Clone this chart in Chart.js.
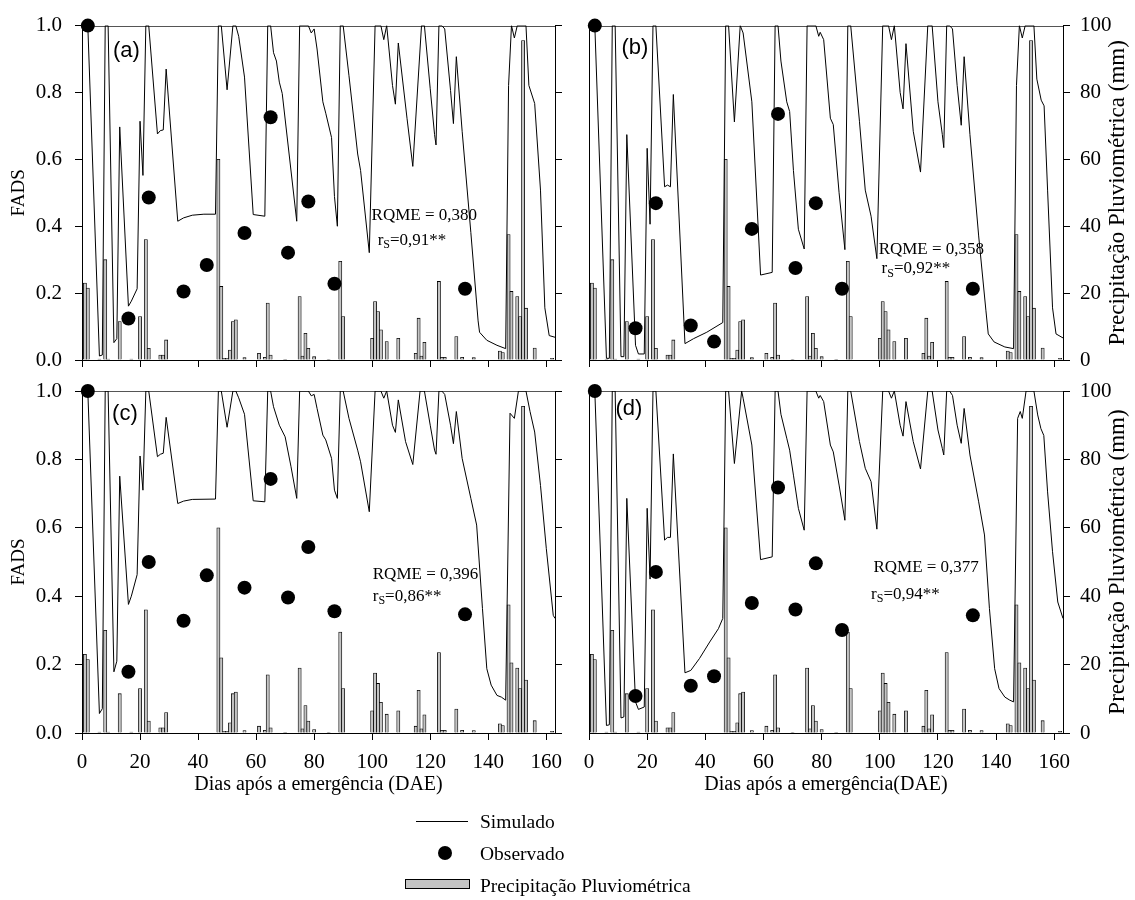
<!DOCTYPE html>
<html><head><meta charset="utf-8">
<script src="https://cdn.jsdelivr.net/npm/chart.js@4.4.0/dist/chart.umd.min.js"></script>
<style>
html,body{margin:0;padding:0;background:#fff;}
#wrap{position:relative;width:1135px;height:900px;overflow:hidden;background:#fff;}
#wrap canvas{position:absolute;left:0;top:0;}
.leg{position:absolute;font-family:"Liberation Serif","Times New Roman",serif;font-size:19.5px;line-height:20px;color:#000;white-space:nowrap;}
</style></head><body>
<div id="wrap">
<canvas id="ca" width="1135" height="900"></canvas>
<canvas id="cb" width="1135" height="900"></canvas>
<canvas id="cc" width="1135" height="900"></canvas>
<canvas id="cd" width="1135" height="900"></canvas>
<div style="position:absolute;left:416px;top:821px;width:52px;height:0;border-top:1px solid #000"></div>
<div class="leg" style="left:480px;top:812px">Simulado</div>
<div style="position:absolute;left:438px;top:846px;width:14px;height:14px;border-radius:50%;background:#000"></div>
<div class="leg" style="left:480px;top:844px">Observado</div>
<div style="position:absolute;left:405px;top:879px;width:63px;height:8px;background:#c4c4c4;border:1px solid #000"></div>
<div class="leg" style="left:480px;top:876px">Precipitação Pluviométrica</div>
</div>
<script>
// ---------- data ----------
const xTicks = [0,20,40,60,80,100,120,140,160];
const yTicks = [0,0.2,0.4,0.6,0.8,1.0];
const y2Ticks = [0,20,40,60,80,100];

const rainDays = [1,2,6,8,9,13,17,20,22,23,27,28,29,47,48,49,50,51,52,53,56,61,63,64,65,70,75,76,77,78,80,85,89,90,100,101,102,103,105,109,115,116,117,118,123,124,125,129,131,135,144,145,147,148,150,151,152,153,156,162];
const rainMM = [23,21.5,0.3,30,0.3,11.5,0.3,13,36,3.5,1.5,1.5,6,60,22,0.5,0.5,3,11.5,12,0.7,2,0.8,17,1.5,0.2,19,1.2,8,3.5,1,0.2,29.5,13,6.5,17.5,14.5,9,5.5,6.5,2,12.5,1.2,5.3,23.5,0.8,0.8,7,0.8,0.7,2.7,2.2,37.5,20.5,19,13,95.5,15.5,3.6,0.5];

const obsDays = [2,16,23,35,43,56,65,71,78,87,132];
const obsA = [1.0,0.124,0.486,0.205,0.284,0.380,0.726,0.321,0.474,0.228,0.213];
const obsB = [1.0,0.095,0.469,0.103,0.055,0.392,0.736,0.275,0.469,0.213,0.213];
const obsC = [1.0,0.179,0.500,0.328,0.461,0.425,0.743,0.396,0.544,0.356,0.347];
const obsD = [1.0,0.108,0.471,0.138,0.166,0.380,0.718,0.361,0.496,0.301,0.344];

const simDaysA = [1,2,6,7,8,9,11,12,13,16,17,19,20,21,22,23,26,27,28,29,33,35,38,42,46,47,48,50,52,53,54,56,59,63,64,65,66,67,68,69,74,75,78,79,80,81,83,84,86,87,88,89,90,92,95,96,99,101,103,104,105,107,108,109,112,114,117,118,120,121.5,122,123,124,125,127,128,129,131,134,136.5,137,139.5,143,146,147,148,149,150,153,154,156,158,159.5,161,163];
const simA = [1,1,0.012,0.015,1,1,0.052,0.064,0.697,0.161,0.176,0.213,0.714,0.552,1,1,0.676,0.686,0.688,0.870,0.415,0.425,0.433,0.436,0.436,1,1,0.808,1,1,0.968,0.846,0.435,0.430,1,1,0.919,0.894,0.831,0.797,0.415,1,1,0.978,0.99,0.93,0.772,0.738,0.665,0.489,0.40,1,1,0.85,0.616,0.567,0.321,1,1,0.958,1,0.821,0.765,0.948,0.723,0.579,1,1,0.811,0.674,0.643,1,1,0.99,0.806,0.707,0.907,0.684,0.381,0.117,0.083,0.059,0.044,0.034,0.821,1,0.963,1,1,0.821,0.767,0.508,0.156,0.073,0.068];

const simDaysB = [1,2,6,7,8,9,11,12,13,16,17,19,20,21,22,23,26,27,28,29,33,36,40.5,46,47,48,50,52,53,56,59,63,64,65,66,68,69,70.3,72,74,75,78,79,79.5,80.7,83,84,86,88,89,90,93,95,97,99,101,103,104,105,107,108,109,111.5,114,116.5,118,120,121.5,122,123,124,125,126.6,128,129,131,134,136.5,137.3,139.3,143,146,147,148,149,150,153,154,155.5,156.5,157.7,159.4,160.6,163];
const simB = [1,1,0.005,0.005,1,1,0.01,0.01,0.674,0.044,0.018,0.018,0.633,0.406,1,1,0.518,0.523,0.518,0.794,0.049,0.064,0.083,0.112,1,1,0.712,1,0.978,0.772,0.254,0.262,1,1,0.894,0.772,0.743,0.567,0.391,0.332,1,1,0.968,0.98,0.958,0.723,0.704,0.5,0.33,1,1,0.714,0.508,0.43,0.303,1,1,0.958,1,0.80,0.751,0.946,0.684,0.562,1,1,0.772,0.674,0.635,1,1,0.99,0.821,0.702,0.907,0.674,0.371,0.147,0.078,0.054,0.039,0.034,0.821,1,0.963,1,1,0.84,0.777,0.76,0.508,0.156,0.078,0.066];

const simDaysC = [1,2,6,7,8,9,11,12,13,16,17,19,20,21,22,23,26,27,28,29,33,35,38,46,47,48,50,52,53,54,56,59,63,64,65,66,68,70,72,74,75,78,79,80,81,83,84,86,87,88,89,90,92,95,96,99,101,103,104,105,107,108,109,111.5,114,116.5,118,120,121.5,122,123,124,125,127,128,129,131,134,136,138,139.5,141,143,144.5,146,147.5,149,150.4,153,154.4,156,158,160,162.4,163];
const simC = [1,1,0.057,0.071,1,1,0.179,0.21,0.751,0.376,0.40,0.463,0.81,0.71,1,1,0.808,0.815,0.818,0.923,0.671,0.678,0.683,0.684,1,1,0.894,1,1,0.98,0.932,0.679,0.676,1,1,0.954,0.9,0.866,0.78,0.686,1,1,0.986,0.99,0.949,0.871,0.857,0.803,0.71,0.686,1,1,0.92,0.827,0.793,0.647,1,1,0.979,1,0.9,0.879,0.974,0.852,0.785,1,1,0.9,0.827,0.815,1,1,0.99,0.9,0.846,0.94,0.803,0.686,0.608,0.364,0.188,0.14,0.11,0.105,0.096,0.935,0.92,1,1,0.94,0.88,0.724,0.54,0.344,0.335];

const simDaysD = [1,2,6,7,8,9,11,12,13,16,17,19,20,21,22,23,26,27,28,29,33,35,38,41.5,44.5,46,47,48,50,52.5,53,56,59,63,64,65,66,68,69,70.3,72,74,75,78,79,79.5,80.7,83,84,86,88,89,90,93,95,97,99,101,103,104,105,107,108,109,111.5,114,116.5,118,120,121.5,122,123,124,125,126.6,128,129,131,134,136,137.7,139.5,141,143,144.7,146,147.4,148.3,149,150.3,153,154.3,155.4,156.4,157.7,159.4,161.2,163];
const simD = [1,1,0.022,0.024,1,1,0.044,0.047,0.686,0.091,0.069,0.076,0.657,0.45,1,1,0.564,0.572,0.572,0.816,0.176,0.183,0.218,0.266,0.305,0.335,1,1,0.788,1,0.979,0.842,0.507,0.515,1,1,0.932,0.862,0.827,0.754,0.657,0.593,1,1,0.979,0.987,0.969,0.842,0.822,0.725,0.622,1,1,0.852,0.774,0.735,0.596,1,1,0.979,1,0.9,0.868,0.969,0.852,0.772,1,1,0.886,0.832,0.813,1,1,0.987,0.9,0.847,0.949,0.813,0.676,0.579,0.364,0.188,0.13,0.105,0.096,0.091,0.92,0.94,0.92,1,1,0.93,0.89,0.87,0.705,0.53,0.383,0.335];

const panelTags = ['(a)','(b)','(c)','(d)'];
const rqmeTexts = ['RQME = 0,380','RQME = 0,358','RQME = 0,396','RQME = 0,377'];
const rsTexts = ['0,91**','0,92**','0,86**','0,94**'];
const xTitle = 'Dias após a emergência (DAE)';
const xTitle2 = 'Dias após a emergência(DAE)';
const yTitle = 'FADS';
const y2Title = 'Precipitação Pluviométrica (mm)';

// ---------- layout ----------
const SERIF = '"Liberation Serif","Times New Roman",serif';
const SANS = '"Liberation Sans",Arial,sans-serif';
Chart.defaults.color = '#000';
Chart.defaults.font.family = SERIF;

const panels = [
  {id:'ca', box:[82,555,19,360], L:true, R:false, B:false, sx:simDaysA, sy:simA, oy:obsA, i:0, tagAt:[15.3,0.924], rqAt:[99.8,0.431], rsAt:[101.9,0.358], xt:''},
  {id:'cb', box:[589,1063,19,360], L:false, R:true, B:false, sx:simDaysB, sy:simB, oy:obsB, i:1, tagAt:[15.8,0.932], rqAt:[99.6,0.331], rsAt:[100.6,0.274], xt:''},
  {id:'cc', box:[82,555,391,733], L:true, R:false, B:true, sx:simDaysC, sy:simC, oy:obsC, i:2, tagAt:[14.8,0.933], rqAt:[100.2,0.464], rsAt:[100.2,0.40], xt:xTitle},
  {id:'cd', box:[589,1063,391,733], L:false, R:true, B:true, sx:simDaysD, sy:simD, oy:obsD, i:3, tagAt:[13.7,0.947], rqAt:[97.8,0.483], rsAt:[97.0,0.406], xt:xTitle2}
];

function makeDecor(p){
  return {
    id:'decor',
    beforeDatasetsDraw(chart){
      const ca = chart.chartArea, ctx = chart.ctx;
      ctx.save();
      ctx.strokeStyle = '#555'; ctx.lineWidth = 1;
      ctx.beginPath(); ctx.moveTo(ca.left, Math.round(ca.top)+0.5); ctx.lineTo(ca.right, Math.round(ca.top)+0.5); ctx.stroke();
      ctx.restore();
    },
    afterDraw(chart){
      const ctx = chart.ctx, xs = chart.scales.x, ys = chart.scales.y;
      ctx.save();
      ctx.fillStyle = '#000';
      ctx.font = '22px ' + SANS; ctx.textAlign = 'center'; ctx.textBaseline = 'middle';
      ctx.fillText(panelTags[p.i], xs.getPixelForValue(p.tagAt[0]), ys.getPixelForValue(p.tagAt[1]));
      ctx.font = '17px ' + SERIF; ctx.textAlign = 'left';
      ctx.fillText(rqmeTexts[p.i], xs.getPixelForValue(p.rqAt[0]), ys.getPixelForValue(p.rqAt[1]));
      const x0 = xs.getPixelForValue(p.rsAt[0]), y0 = ys.getPixelForValue(p.rsAt[1]);
      ctx.fillText('r', x0, y0);
      let w = ctx.measureText('r').width;
      ctx.font = '12px ' + SERIF;
      ctx.fillText('S', x0 + w, y0 + 5);
      w += ctx.measureText('S').width;
      ctx.font = '17px ' + SERIF;
      ctx.fillText('=' + rsTexts[p.i], x0 + w, y0);
      if (p.R) {
        const s2 = chart.scales.y2;
        ctx.translate(s2.right - 17, (chart.chartArea.top + chart.chartArea.bottom)/2);
        ctx.rotate(-Math.PI/2);
        ctx.font = '23px ' + SERIF; ctx.textAlign = 'center'; ctx.textBaseline = 'middle';
        ctx.fillText(y2Title, 0, 0);
      }
      ctx.restore();
    }
  };
}

function build(p){
  const W = 1135, H = 900;
  const [l, r, t, b] = p.box;
  const leftW = p.L ? 82 : 10;
  const rightW = p.R ? 72 : 10;
  const botH = p.B ? 70 : 10;
  const padding = {left: l - leftW, right: W - r - rightW, top: t, bottom: H - b - botH};
  const axisGrid = (ticks) => ({drawOnChartArea:false, drawTicks:ticks, tickLength:7, color:'#000', tickColor:'#000', lineWidth:1});
  return new Chart(document.getElementById(p.id), {
    type:'line',
    data:{
      datasets:[
        {type:'scatter', data: obsDays.map((d,k)=>({x:d, y:p.oy[k]})), yAxisID:'y', order:1,
         pointRadius:7, pointBackgroundColor:'#000', pointBorderColor:'#000', pointBorderWidth:0, showLine:false, clip:false},
        {type:'line', data: p.sx.map((d,k)=>({x:d, y:p.sy[k]})), yAxisID:'y', order:2,
         borderColor:'#000', borderWidth:1, pointRadius:0, tension:0, fill:false},
        {type:'bar', data: rainDays.map((d,k)=>({x:d, y:rainMM[k]})), yAxisID:'y2', order:3,
         backgroundColor:'#c4c4c4', borderColor:'#000', borderWidth:0.8, barThickness:3.2}
      ]
    },
    options:{
      responsive:false, animation:false, events:[],
      layout:{padding},
      plugins:{legend:{display:false}, tooltip:{enabled:false}},
      scales:{
        x:{type:'linear', position:'bottom', min:0, max:163, offset:false, bounds:'data',
           afterBuildTicks: s => { s.ticks = xTicks.map(v=>({value:v})); },
           afterFit: s => { s.height = botH; },
           ticks:{autoSkip:false, maxRotation:0, padding:10, font:{size:21, family:SERIF}, color:'#000',
                  callback: v => p.B ? String(v) : ''},
           grid: Object.assign(axisGrid(true), {offset:false}),
           border:{display:true, color:'#000', width:1},
           title:{display:p.B, text:p.xt, color:'#000', font:{size:20, family:SERIF}, padding:{top:4, bottom:6}}},
        y:{type:'linear', position:'left', min:0, max:1, bounds:'data',
           afterBuildTicks: s => { s.ticks = yTicks.map(v=>({value:v})); },
           afterFit: s => { s.width = leftW; },
           ticks:{padding:13, font:{size:21, family:SERIF}, color:'#000',
                  callback: v => p.L ? Number(v).toFixed(1) : ''},
           grid: axisGrid(p.L),
           border:{display:true, color:'#000', width:1},
           title:{display:p.L, text:yTitle, color:'#000', font:{size:19, family:SERIF}, padding:{top:8, bottom:4}}},
        y2:{type:'linear', position:'right', min:0, max:100, bounds:'data',
           afterBuildTicks: s => { s.ticks = y2Ticks.map(v=>({value:v})); },
           afterFit: s => { s.width = rightW; },
           ticks:{padding:10, font:{size:21, family:SERIF}, color:'#000',
                  callback: v => p.R ? String(v) : ''},
           grid: axisGrid(true),
           border:{display:true, color:'#000', width:1}}
      }
    },
    plugins:[makeDecor(p)]
  });
}
panels.forEach(build);
</script>
</body></html>
